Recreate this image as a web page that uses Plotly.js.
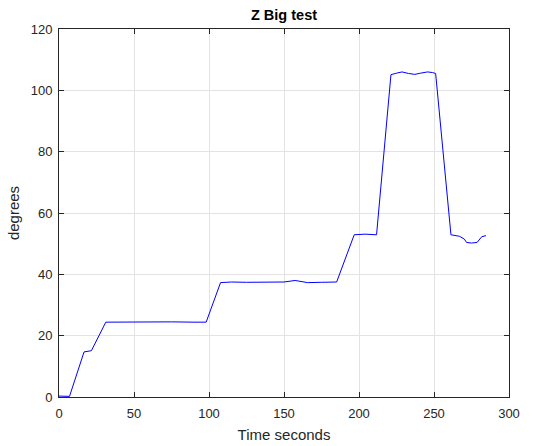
<!DOCTYPE html>
<html>
<head>
<meta charset="utf-8">
<script src="https://cdn.plot.ly/plotly-3.0.1.min.js"></script>
<style>
  html, body { margin: 0; padding: 0; background: #ffffff; }
  #chart { width: 541px; height: 446px; }
</style>
</head>
<body>
<div id="chart"></div>
<script>
// Z axis angle over the big test run
const timeSec = [0, 3, 7, 16.7, 19, 21.6, 31.2, 45, 60, 75, 90, 98.1, 107.7, 115, 125, 140, 150, 157.4, 161, 165.8, 175, 185.1,
                 196.8, 204, 211.7, 221.3, 225, 228.7, 233, 237.2, 241, 245.7, 249, 251.1, 261.3, 265, 267, 270.2, 271.7, 275, 278.7, 281.9, 284.7];
const degrees = [0.3, 0.3, 0.2, 14.7, 15.0, 15.1, 24.4, 24.5, 24.4, 24.5, 24.4, 24.4, 37.3, 37.5, 37.4, 37.5, 37.5, 38.0, 37.6, 37.3, 37.4, 37.5,
                 52.9, 53.1, 52.9, 105.1, 105.6, 106.0, 105.5, 105.2, 105.6, 106.0, 105.8, 105.5, 52.9, 52.6, 52.4, 51.5, 50.4, 50.2, 50.4, 52.3, 52.6];

const xTicks = [0, 50, 100, 150, 200, 250, 300];
const yTicks = [0, 20, 40, 60, 80, 100, 120];

const axisColor = '#262626';
const gridColor = '#e3e3e3';
const font = 'Liberation Sans, Arial, sans-serif';

const trace = {
  x: timeSec,
  y: degrees,
  type: 'scatter',
  mode: 'lines',
  line: { color: '#0000ff', width: 1 },
  hoverinfo: 'skip'
};

const layout = {
  width: 541,
  height: 446,
  margin: { l: 59, r: 32, t: 29, b: 49 },
  paper_bgcolor: '#ffffff',
  plot_bgcolor: '#ffffff',
  showlegend: false,
  font: { family: font, color: axisColor, size: 13 },
  title: {
    text: '<b>Z Big test</b>',
    font: { family: font, size: 14.5, color: '#000000' },
    x: 0.5, xref: 'paper', xanchor: 'center',
    y: 1 - 15 / 446, yref: 'container', yanchor: 'middle'
  },
  xaxis: {
    range: [0, 300],
    tickvals: xTicks,
    ticktext: xTicks.map(String),
    ticks: 'inside', ticklen: 5, tickcolor: axisColor, tickwidth: 1,
    ticklabelstandoff: 4,
    showline: true, linecolor: axisColor, linewidth: 1, mirror: 'ticks',
    showgrid: true, gridcolor: gridColor, gridwidth: 1,
    zeroline: false,
    tickfont: { family: font, size: 13, color: axisColor },
    title: { text: 'Time seconds', font: { family: font, size: 15, color: axisColor }, standoff: 9 }
  },
  yaxis: {
    range: [0, 120],
    tickvals: yTicks,
    ticktext: yTicks.map(String),
    ticks: 'inside', ticklen: 5, tickcolor: axisColor, tickwidth: 1,
    ticklabelstandoff: 3,
    showline: true, linecolor: axisColor, linewidth: 1, mirror: 'ticks',
    showgrid: true, gridcolor: gridColor, gridwidth: 1,
    zeroline: false,
    tickfont: { family: font, size: 13, color: axisColor },
    title: { text: 'degrees', font: { family: font, size: 15, color: axisColor }, standoff: 7 }
  }
};

Plotly.newPlot('chart', [trace], layout, { staticPlot: true, displayModeBar: false });
</script>
</body>
</html>
